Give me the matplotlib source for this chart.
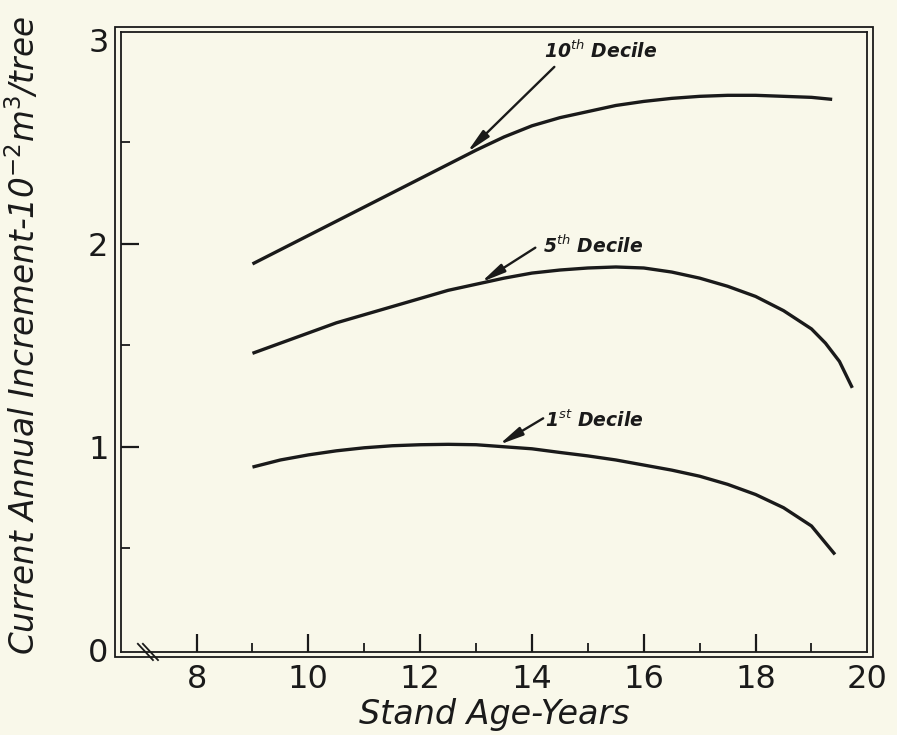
import matplotlib
matplotlib.use("Agg")
import matplotlib.pyplot as plt
from matplotlib.patches import Rectangle

# stand age (years) and current annual increment (10^-2 m^3/tree)
age_10th = [9, 9.5, 10, 10.5, 11, 11.5, 12, 12.5, 13, 13.5, 14, 14.5, 15, 15.5, 16,
            16.5, 17, 17.5, 18, 18.5, 19, 19.37]
inc_10th = [1.90, 1.97, 2.04, 2.11, 2.18, 2.25, 2.32, 2.39, 2.46, 2.525, 2.58, 2.62,
            2.65, 2.68, 2.70, 2.715, 2.725, 2.73, 2.73, 2.725, 2.72, 2.71]

age_5th = [9, 9.5, 10, 10.5, 11, 11.5, 12, 12.5, 13, 13.5, 14, 14.5, 15, 15.5, 16,
           16.5, 17, 17.5, 18, 18.5, 19, 19.25, 19.5, 19.73]
inc_5th = [1.46, 1.51, 1.56, 1.61, 1.65, 1.69, 1.73, 1.77, 1.80, 1.83, 1.855, 1.87,
           1.88, 1.885, 1.88, 1.86, 1.83, 1.79, 1.74, 1.67, 1.58, 1.51, 1.42, 1.29]

age_1st = [9, 9.5, 10, 10.5, 11, 11.5, 12, 12.5, 13, 13.5, 14, 14.5, 15, 15.5, 16,
           16.5, 17, 17.5, 18, 18.5, 19, 19.42]
inc_1st = [0.90, 0.935, 0.96, 0.98, 0.995, 1.005, 1.01, 1.012, 1.01, 1.00, 0.99, 0.972,
           0.955, 0.935, 0.91, 0.885, 0.855, 0.815, 0.765, 0.70, 0.61, 0.47]

labels = ["10$^{th}$ Decile", "5$^{th}$ Decile", "1$^{st}$ Decile"]
x_ticks = [8, 10, 12, 14, 16, 18, 20]
x_minor = [9, 11, 13, 15, 17, 19]
y_ticks = [0, 1, 2, 3]
y_minor = [0.5, 1.5, 2.5]

bg = "#f9f8ea"
ink = "#1a1a1a"

plt.rcParams["font.family"] = "DejaVu Sans"
plt.rcParams["mathtext.fontset"] = "dejavusans"
plt.rcParams["mathtext.default"] = "it"

fig = plt.figure(figsize=(8.97, 7.35), dpi=100, facecolor=bg)
ax = fig.add_axes([0.135, 0.113, 0.832, 0.843])
ax.set_facecolor(bg)

for xs, ys in [(age_10th, inc_10th), (age_5th, inc_5th), (age_1st, inc_1st)]:
    ax.plot(xs, ys, color=ink, linewidth=2.4, solid_capstyle="butt",
            solid_joinstyle="round")

# labels with arrows (text spot, arrow tail, arrow head)
notes = [
    (labels[0], (14.22, 2.95), (14.4, 2.87), (12.84, 2.45)),
    (labels[1], (14.2, 1.99), (14.06, 1.98), (13.09, 1.81)),
    (labels[2], (14.24, 1.13), (14.2, 1.14), (13.41, 1.01)),
]
for txt, tpos, tail, head in notes:
    ax.text(tpos[0], tpos[1], txt, fontsize=13.5, style="italic", weight="bold",
            color=ink, ha="left", va="center")
    ax.annotate("", xy=head, xytext=tail,
                arrowprops=dict(arrowstyle="-|>,head_length=0.9,head_width=0.17",
                                color=ink, lw=1.7, mutation_scale=16,
                                shrinkA=0, shrinkB=0))

ax.set_xlim(6.65, 20.0)
ax.set_ylim(-0.01, 3.04)
ax.set_xticks(x_ticks)
ax.set_yticks(y_ticks)
ax.set_xticks(x_minor, minor=True)
ax.set_yticks(y_minor, minor=True)
ax.set_xticklabels([str(v) for v in x_ticks])
ax.set_yticklabels([str(v) for v in y_ticks])
ax.tick_params(which="major", direction="in", length=13, width=1.6, color=ink,
               labelsize=23, labelcolor=ink, pad=9)
ax.tick_params(which="minor", direction="in", length=6.5, width=1.3, color=ink)
ax.tick_params(axis="x", which="both", top=False)
ax.tick_params(axis="y", which="both", right=False)

# no tick marks where the ticks sit on the frame
for v, t in zip(x_ticks, ax.xaxis.get_major_ticks()):
    if v == 20:
        t.tick1line.set_visible(False)
for v, t in zip(y_ticks, ax.yaxis.get_major_ticks()):
    if v in (0, 3):
        t.tick1line.set_visible(False)

for s in ax.spines.values():
    s.set_linewidth(1.3)
    s.set_color(ink)

# outer line of the double frame
dx = 6 / (0.832 * 897)
dy = 5 / (0.843 * 735)
ax.add_patch(Rectangle((-dx, -dy), 1 + 2 * dx, 1 + 2 * dy, transform=ax.transAxes,
                       fill=False, lw=1.3, edgecolor=ink, clip_on=False))

# axis break mark
for off in (0.0, 0.09):
    ax.plot([6.95 + off, 7.22 + off], [0.03, -0.05], color=ink, lw=1.3, clip_on=False)

ax.set_xlabel("Stand Age-Years", fontsize=24, style="italic", color=ink, labelpad=2)
ax.set_ylabel("Current Annual Increment-10$^{-2}$m$^{3}$/tree", fontsize=23.5,
              style="italic", color=ink)
ax.yaxis.set_label_coords(-0.106, 0.51)

fig.savefig("out.png", dpi=100, facecolor=bg)
